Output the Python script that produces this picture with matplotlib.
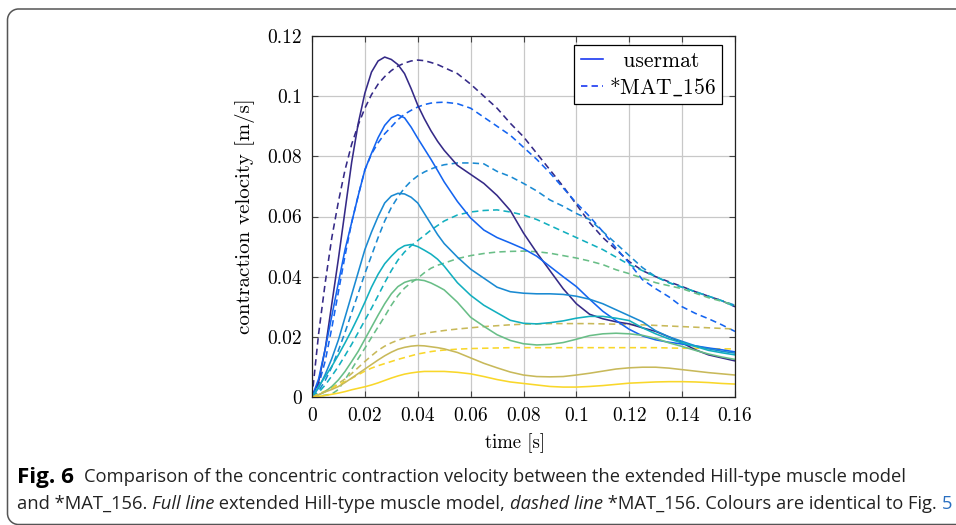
import matplotlib
matplotlib.use("Agg")
import matplotlib.pyplot as plt
from matplotlib.patches import PathPatch
from matplotlib.path import Path
from matplotlib.lines import Line2D
import numpy as np

plt.rcParams['font.family'] = 'cmr10'
plt.rcParams['mathtext.fontset'] = 'cm'
plt.rcParams['axes.formatter.use_mathtext'] = True

# ---------------- data ----------------
t = [0.0000, 0.0025, 0.0050, 0.0075, 0.0100, 0.0125, 0.0150, 0.0175, 0.0200, 0.0225,
     0.0250, 0.0275, 0.0300, 0.0325, 0.0350, 0.0375, 0.0400, 0.0425, 0.0450, 0.0475,
     0.0500, 0.055, 0.060, 0.065, 0.070, 0.075, 0.080, 0.085, 0.090, 0.095,
     0.100, 0.105, 0.110, 0.115, 0.120, 0.125, 0.130, 0.135, 0.140, 0.145,
     0.150, 0.155, 0.160]

# usermat (full lines)
s1 = [0, 0.005, 0.016, 0.031, 0.046, 0.062, 0.078, 0.091, 0.101, 0.108,
      0.1117, 0.1130, 0.1122, 0.1105, 0.1075, 0.1025, 0.097, 0.0925, 0.0885, 0.085,
      0.082, 0.077, 0.074, 0.071, 0.067, 0.062, 0.0545, 0.048, 0.042, 0.036,
      0.031, 0.0275, 0.026, 0.025, 0.0243, 0.023, 0.0218, 0.020, 0.018, 0.0157,
      0.014, 0.013, 0.012]
s2 = [0, 0.006, 0.016, 0.027, 0.038, 0.049, 0.058, 0.067, 0.0755, 0.081,
      0.0862, 0.0903, 0.0928, 0.0938, 0.0928, 0.0897, 0.086, 0.0825, 0.079, 0.0753,
      0.0715, 0.065, 0.0595, 0.0555, 0.053, 0.0512, 0.0493, 0.0468, 0.0434, 0.040,
      0.0367, 0.0325, 0.0285, 0.0254, 0.0225, 0.0203, 0.019, 0.0182, 0.0176, 0.017,
      0.0163, 0.0157, 0.015]
s3 = [0, 0.003, 0.0075, 0.0128, 0.019, 0.0265, 0.034, 0.0415, 0.049, 0.0548,
      0.060, 0.0645, 0.0668, 0.0677, 0.0675, 0.0664, 0.0645, 0.061, 0.0575, 0.054,
      0.051, 0.0465, 0.0425, 0.0395, 0.0365, 0.035, 0.0345, 0.0343, 0.0343, 0.0341,
      0.0335, 0.0325, 0.031, 0.029, 0.027, 0.025, 0.022, 0.020, 0.0185, 0.017,
      0.016, 0.0152, 0.0146]
s4 = [0, 0.0035, 0.0068, 0.0102, 0.014, 0.018, 0.0222, 0.0267, 0.0315, 0.0365,
      0.0408, 0.0443, 0.0468, 0.0490, 0.0503, 0.0507, 0.050, 0.0488, 0.0475, 0.0458,
      0.0435, 0.038, 0.0338, 0.0305, 0.028, 0.0255, 0.0245, 0.0243, 0.0247, 0.0253,
      0.0262, 0.0268, 0.0268, 0.0262, 0.0254, 0.023, 0.021, 0.0193, 0.018, 0.0168,
      0.0155, 0.0147, 0.014]
s5 = [0, 0.0007, 0.0018, 0.0035, 0.0057, 0.0085, 0.0118, 0.0152, 0.0192, 0.0232,
      0.0272, 0.031, 0.0343, 0.0367, 0.0381, 0.0388, 0.039, 0.0387, 0.0379, 0.0368,
      0.0356, 0.0315, 0.0265, 0.0235, 0.0207, 0.0188, 0.0177, 0.0173, 0.0175, 0.0181,
      0.0192, 0.0204, 0.021, 0.0212, 0.021, 0.0205, 0.0195, 0.018, 0.0168, 0.0155,
      0.0143, 0.0133, 0.0125]
s6 = [0, 0.0008, 0.0017, 0.0025, 0.0035, 0.0048, 0.0063, 0.0078, 0.0093, 0.0108,
      0.0123, 0.0137, 0.0149, 0.0159, 0.0165, 0.0169, 0.0171, 0.0170, 0.0167, 0.0164,
      0.0160, 0.0148, 0.0130, 0.0112, 0.0097, 0.0083, 0.0073, 0.0068, 0.0067, 0.0068,
      0.0073, 0.0079, 0.0086, 0.0093, 0.0097, 0.0099, 0.0099, 0.0096, 0.0091, 0.0086,
      0.0081, 0.0077, 0.0073]
s7 = [0, 0.0002, 0.0005, 0.0009, 0.0013, 0.0018, 0.0024, 0.0029, 0.0034, 0.004,
      0.0047, 0.0055, 0.0063, 0.007, 0.0076, 0.008, 0.0083, 0.0085, 0.0085, 0.0085,
      0.0085, 0.0082, 0.0077, 0.0068, 0.0058, 0.005, 0.0045, 0.004, 0.0035, 0.0033,
      0.0033, 0.0035, 0.0038, 0.0042, 0.0046, 0.0048, 0.005, 0.0051, 0.0051, 0.005,
      0.0048, 0.0045, 0.0043]

# *MAT_156 (dashed lines)
d1 = [0, 0.021, 0.038, 0.053, 0.065, 0.0755, 0.084, 0.0905, 0.096, 0.1005,
      0.104, 0.1065, 0.1085, 0.110, 0.111, 0.1117, 0.112, 0.1118, 0.1112, 0.1105,
      0.1095, 0.1075, 0.104, 0.100, 0.096, 0.091, 0.0865, 0.081, 0.0755, 0.070,
      0.064, 0.058, 0.053, 0.049, 0.045, 0.042, 0.040, 0.0383, 0.0367, 0.035,
      0.0335, 0.032, 0.030]
d2 = [0, 0.004, 0.012, 0.023, 0.035, 0.047, 0.058, 0.067, 0.0755, 0.0808,
      0.0845, 0.0875, 0.0898, 0.0922, 0.0940, 0.0953, 0.0964, 0.0972, 0.0977, 0.0979,
      0.098, 0.0975, 0.096, 0.093, 0.090, 0.087, 0.083, 0.079, 0.0745, 0.0695,
      0.0645, 0.060, 0.055, 0.0495, 0.0445, 0.039, 0.036, 0.0333, 0.030, 0.0278,
      0.026, 0.024, 0.0218]
d3 = [0, 0.002, 0.0055, 0.010, 0.0155, 0.0215, 0.028, 0.0345, 0.041, 0.047,
      0.053, 0.0585, 0.063, 0.0665, 0.0695, 0.0718, 0.0735, 0.0748, 0.0758, 0.0766,
      0.0772, 0.0778, 0.0778, 0.0775, 0.075, 0.0733, 0.071, 0.0685, 0.0655, 0.0634,
      0.061, 0.059, 0.055, 0.051, 0.047, 0.043, 0.040, 0.038, 0.0365, 0.035,
      0.0335, 0.032, 0.0305]
d4 = [0, 0.0015, 0.004, 0.007, 0.0102, 0.0138, 0.0175, 0.0215, 0.0255, 0.0295,
      0.0337, 0.038, 0.042, 0.0455, 0.0482, 0.0503, 0.052, 0.0537, 0.0555, 0.057,
      0.0585, 0.0605, 0.0615, 0.062, 0.0622, 0.0615, 0.0605, 0.059, 0.057, 0.055,
      0.053, 0.051, 0.049, 0.0465, 0.044, 0.042, 0.040, 0.038, 0.0365, 0.035,
      0.0335, 0.032, 0.030]
d5 = [0, 0.0003, 0.0006, 0.001, 0.0025, 0.0058, 0.0092, 0.0128, 0.0162, 0.0198,
      0.0233, 0.0268, 0.0305, 0.0337, 0.0362, 0.0380, 0.0395, 0.0413, 0.0428, 0.0438,
      0.0445, 0.046, 0.047, 0.0477, 0.0482, 0.0484, 0.0485, 0.0483, 0.0478, 0.047,
      0.0462, 0.0452, 0.044, 0.0423, 0.041, 0.0395, 0.038, 0.037, 0.036, 0.0345,
      0.033, 0.0318, 0.0305]
d6 = [0, 0.0008, 0.0018, 0.003, 0.0045, 0.006, 0.0078, 0.0098, 0.0118, 0.0137,
      0.0155, 0.0169, 0.018, 0.0189, 0.0196, 0.0202, 0.0207, 0.0211, 0.0215, 0.0218,
      0.0221, 0.0226, 0.023, 0.0234, 0.0237, 0.024, 0.0242, 0.0243, 0.0244, 0.0244,
      0.0244, 0.0244, 0.0243, 0.0242, 0.0241, 0.024, 0.0238, 0.0236, 0.0234, 0.0232,
      0.023, 0.0228, 0.0226]
d7 = [0, 0.001, 0.002, 0.003, 0.0041, 0.0051, 0.0062, 0.0074, 0.0086, 0.0096,
      0.0104, 0.0111, 0.0118, 0.0125, 0.0131, 0.0137, 0.0143, 0.0147, 0.0151, 0.0154,
      0.0156, 0.0159, 0.0161, 0.0162, 0.0163, 0.0164, 0.0164, 0.0164, 0.0164, 0.0164,
      0.0164, 0.0164, 0.0164, 0.0164, 0.0164, 0.0164, 0.0164, 0.0163, 0.0162, 0.0162,
      0.0161, 0.016, 0.016]

solid = [s1, s2, s3, s4, s5, s6, s7]
dashed = [d1, d2, d3, d4, d5, d6, d7]
colors = ['#352a87', '#1464f0', '#1a8ad2', '#12afbf', '#69be87', '#c8b95a', '#f9d72a']
legend_labels = ['  usermat', '*MAT' + r'$\_$' + '156']

xticks = [0, 0.02, 0.04, 0.06, 0.08, 0.1, 0.12, 0.14, 0.16]
xticklabels = ['0', '0.02', '0.04', '0.06', '0.08', '0.1', '0.12', '0.14', '0.16']
yticks = [0, 0.02, 0.04, 0.06, 0.08, 0.1, 0.12]
yticklabels = ['0', '0.02', '0.04', '0.06', '0.08', '0.1', '0.12']

# ---------------- figure ----------------
W, H = 956, 525
fig = plt.figure(figsize=(W / 100, H / 100), dpi=100)

# rounded frame: top line, left side, bottom at the image edge (open to the right)
x0, ytop, ybot, r = 7.5, 9.0, 524.5, 11.0
xr = W + 20
k = 0.5523 * r
verts = [(xr, ytop), (x0 + r, ytop), (x0 + r - k, ytop), (x0, ytop + r - k), (x0, ytop + r),
         (x0, ybot - r), (x0, ybot - r + k), (x0 + r - k, ybot), (x0 + r, ybot), (xr, ybot)]
codes = [Path.MOVETO, Path.LINETO, Path.CURVE4, Path.CURVE4, Path.CURVE4,
         Path.LINETO, Path.CURVE4, Path.CURVE4, Path.CURVE4, Path.LINETO]
verts_fig = [(vx / W, 1 - vy / H) for vx, vy in verts]
fig.patches.append(PathPatch(Path(verts_fig, codes), transform=fig.transFigure,
                             fill=False, edgecolor='#555555', linewidth=1.1))

ax = fig.add_axes([312 / W, 1 - 397 / H, (735 - 312) / W, (397 - 36) / H])

dash = (0, (4.0, 2.6))
for ys, c in zip(dashed, colors):
    ax.plot(t, ys, color=c, lw=1.15, ls=dash)
for ys, c in zip(solid, colors):
    ax.plot(t, ys, color=c, lw=1.15, ls='-')

ax.set_xlim(0, 0.16)
ax.set_ylim(0, 0.12)
ax.set_xticks(xticks)
ax.set_xticklabels(xticklabels)
ax.set_yticks(yticks)
ax.set_yticklabels(yticklabels)
ax.tick_params(direction='in', length=4, width=0.8, color='#444444',
               top=True, right=True, labelsize=14, pad=7)
ax.grid(True, color='#c8c8c8', lw=0.9)
ax.set_axisbelow(True)
for sp in ax.spines.values():
    sp.set_linewidth(0.9)
    sp.set_color('#222222')

ax.set_xlabel('time [s]', fontsize=13.5)
ax.xaxis.set_label_coords((515 - 312) / 423, -(443 - 397) / 361)
ax.xaxis.label.set_va('center')
ax.set_ylabel('contraction velocity [m/s]', fontsize=15, labelpad=9)

handles = [Line2D([], [], color='#1030f0', lw=1.15, ls='-'),
           Line2D([], [], color='#1030f0', lw=1.15, ls=dash)]
leg = ax.legend(handles, legend_labels,
                loc='upper right', bbox_to_anchor=((722 - 312) / 423, (397 - 45) / 361),
                borderaxespad=0, fontsize=15.5, frameon=True, fancybox=False,
                framealpha=1, edgecolor='black', handlelength=1.05,
                handletextpad=0.25, borderpad=0.3, labelspacing=0.2)
leg.get_frame().set_linewidth(0.9)

# ---------------- caption ----------------
cap_font = ['Open Sans', 'DejaVu Sans']
text_col = '#222222'
line2 = [('and *MAT_156. ', 'normal', 'normal', text_col),
         ('Full line', 'normal', 'italic', text_col),
         (' extended Hill-type muscle model, ', 'normal', 'normal', text_col),
         ('dashed line', 'normal', 'italic', text_col),
         (' *MAT_156. Colours are identical to Fig. ', 'normal', 'normal', text_col),
         ('5', 'normal', 'normal', '#2a6fc0')]

renderer = fig.canvas.get_renderer()


def layout(parts, x, y_px, size):
    objs = []
    for s, w, st, c in parts:
        tx = fig.text(x / W, 1 - y_px / H, s, fontsize=size, fontweight=w,
                      fontstyle=st, color=c, family=cap_font,
                      va='center', ha='left')
        x += tx.get_window_extent(renderer).width
        objs.append(tx)
    return objs, x


objs, xend = layout(line2, 17.0, 504, 12)
size = 12 * (952.0 - 17) / (xend - 17)
for o in objs:
    o.remove()
layout(line2, 17.0, 504, size)
fig.text(17 / W, 1 - 477 / H, 'Fig. 6', fontsize=size * 1.22, fontweight='bold',
         color='black', family=cap_font, va='center', ha='left')
fig.text(84 / W, 1 - 477 / H,
         'Comparison of the concentric contraction velocity between the extended Hill-type muscle model',
         fontsize=size, color=text_col, family=cap_font, va='center', ha='left')

fig.savefig('out.png', dpi=100)
